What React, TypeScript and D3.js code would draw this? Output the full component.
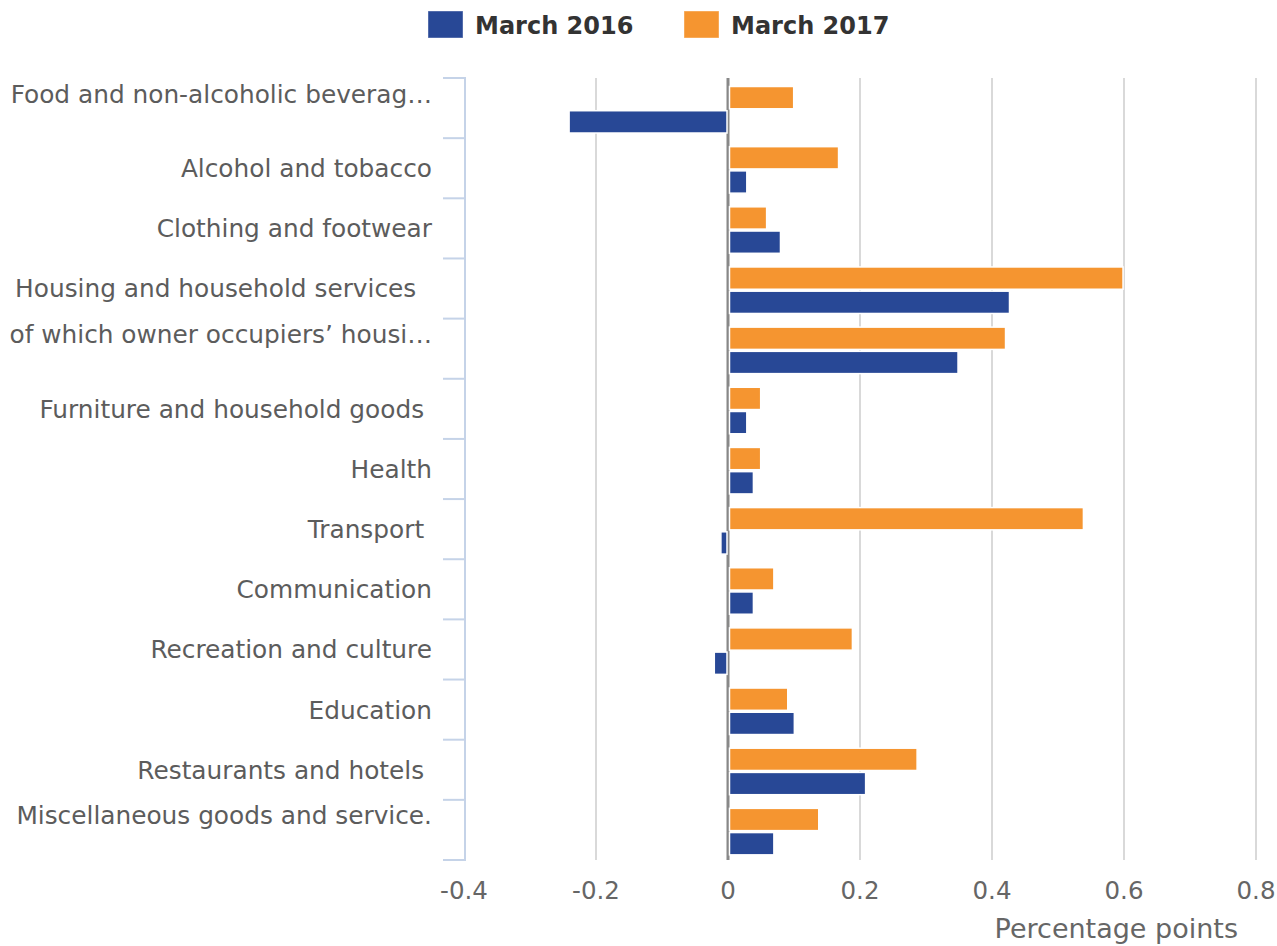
import React from 'react';
import * as d3 from 'd3';

const categories = [
  'Food and non-alcoholic beverag\u2026',
  'Alcohol and tobacco',
  'Clothing and footwear',
  'Housing and household services  ',
  'of which owner occupiers\u2019 housi\u2026',
  'Furniture and household goods ',
  'Health',
  'Transport ',
  'Communication',
  'Recreation and culture',
  'Education',
  'Restaurants and hotels ',
  'Miscellaneous goods and service.',
];

// labels that wrapped to two lines in the source, only the first line shows
const wrappedLabels = [
  'Food and non-alcoholic beverag\u2026',
  'of which owner occupiers\u2019 housi\u2026',
  'Miscellaneous goods and service.',
];

const march2016 = [-0.24, 0.027, 0.078, 0.425, 0.347, 0.027, 0.037, -0.01, 0.037, -0.02, 0.099, 0.207, 0.068];
const march2017 = [0.098, 0.166, 0.057, 0.597, 0.419, 0.048, 0.048, 0.537, 0.068, 0.187, 0.089, 0.285, 0.136];

const seriesNames = ['March 2017', 'March 2016'];
const legendNames = ['March 2016', 'March 2017'];
const xTicks = [-0.4, -0.2, 0, 0.2, 0.4, 0.6, 0.8];

const colors = { 'March 2016': '#284896', 'March 2017': '#f59530' };

const width = 1277;
const height = 946;
const margin = { top: 78, right: 21, bottom: 86, left: 464 };
const font = '"DejaVu Sans", Verdana, sans-serif';

const App = () => {
  const x = d3
    .scaleLinear()
    .domain([-0.4, 0.8])
    .range([margin.left, width - margin.right]);

  const y = d3
    .scaleBand()
    .domain(categories)
    .range([margin.top, height - margin.bottom])
    .padding(0);

  const inner = d3
    .scaleBand()
    .domain(seriesNames)
    .range([8.5, 55])
    .paddingInner(0.08);

  const rows = categories.map((c, i) => ({
    name: c,
    values: { 'March 2016': march2016[i], 'March 2017': march2017[i] },
  }));

  const top = margin.top;
  const bottom = height - margin.bottom;
  const boundaries = [...categories.map((c) => y(c)), bottom];

  return (
    <svg width={width} height={height} style={{ display: 'block', position: 'absolute', left: 0, top: 0 }} fontFamily={font}>
      {/* legend */}
      {legendNames.map((n, i) => (
        <g key={n} transform={`translate(${428 + i * 256},11)`}>
          <rect width={35} height={27} fill={colors[n]} stroke="#ffffff" strokeOpacity={0.4} />
          <text x={47} y={23} fontSize={24} fontWeight="bold" fill="#333333">
            {n}
          </text>
        </g>
      ))}

      {/* grid */}
      {xTicks
        .filter((t) => t !== 0 && t !== -0.4)
        .map((t) => (
          <line key={t} x1={x(t)} x2={x(t)} y1={top} y2={bottom} stroke="#d9d9d9" strokeWidth={2} />
        ))}

      {/* left axis */}
      <line x1={x(-0.4) + 1} x2={x(-0.4) + 1} y1={top} y2={bottom} stroke="#c5d3e8" strokeWidth={2} />
      {boundaries.map((b, i) => (
        <line key={i} x1={443} x2={x(-0.4) + 2} y1={b} y2={b} stroke="#c5d3e8" strokeWidth={2} />
      ))}

      {/* zero line */}
      <line x1={x(0)} x2={x(0)} y1={top} y2={bottom} stroke="#888888" strokeWidth={3} />

      {/* bars */}
      {rows.map((r) => (
        <g key={r.name} transform={`translate(0,${y(r.name)})`}>
          {seriesNames.map((s) => {
            const v = r.values[s];
            return (
              <rect
                key={s}
                x={Math.min(x(0), x(v)) + (v > 0 ? 1.5 : -0.5)}
                y={inner(s)}
                width={Math.abs(x(v) - x(0)) - 0.5}
                height={inner.bandwidth()}
                fill={colors[s]}
                stroke="#ffffff"
                strokeWidth={1.5}
              />
            );
          })}
        </g>
      ))}

      {/* category labels */}
      {categories.map((c) => (
        <text
          key={c}
          x={432}
          y={y(c) + y.bandwidth() / 2 - (wrappedLabels.includes(c) ? 14.5 : 0)}
          dy="0.36em"
          textAnchor="end"
          fontSize={24.8}
          fill="#5c5c5c"
          style={{ whiteSpace: 'pre' }}
        >
          {c}
        </text>
      ))}

      {/* x tick labels */}
      {xTicks.map((t) => (
        <text key={t} x={x(t)} y={899} textAnchor="middle" fontSize={24.5} fill="#666666">
          {t === 0 ? '0' : d3.format('.1f')(t).replace('\u2212', '-')}
        </text>
      ))}

      <text x={1238} y={938} textAnchor="end" fontSize={27} fill="#666666">
        Percentage points
      </text>
    </svg>
  );
};

export default App;
